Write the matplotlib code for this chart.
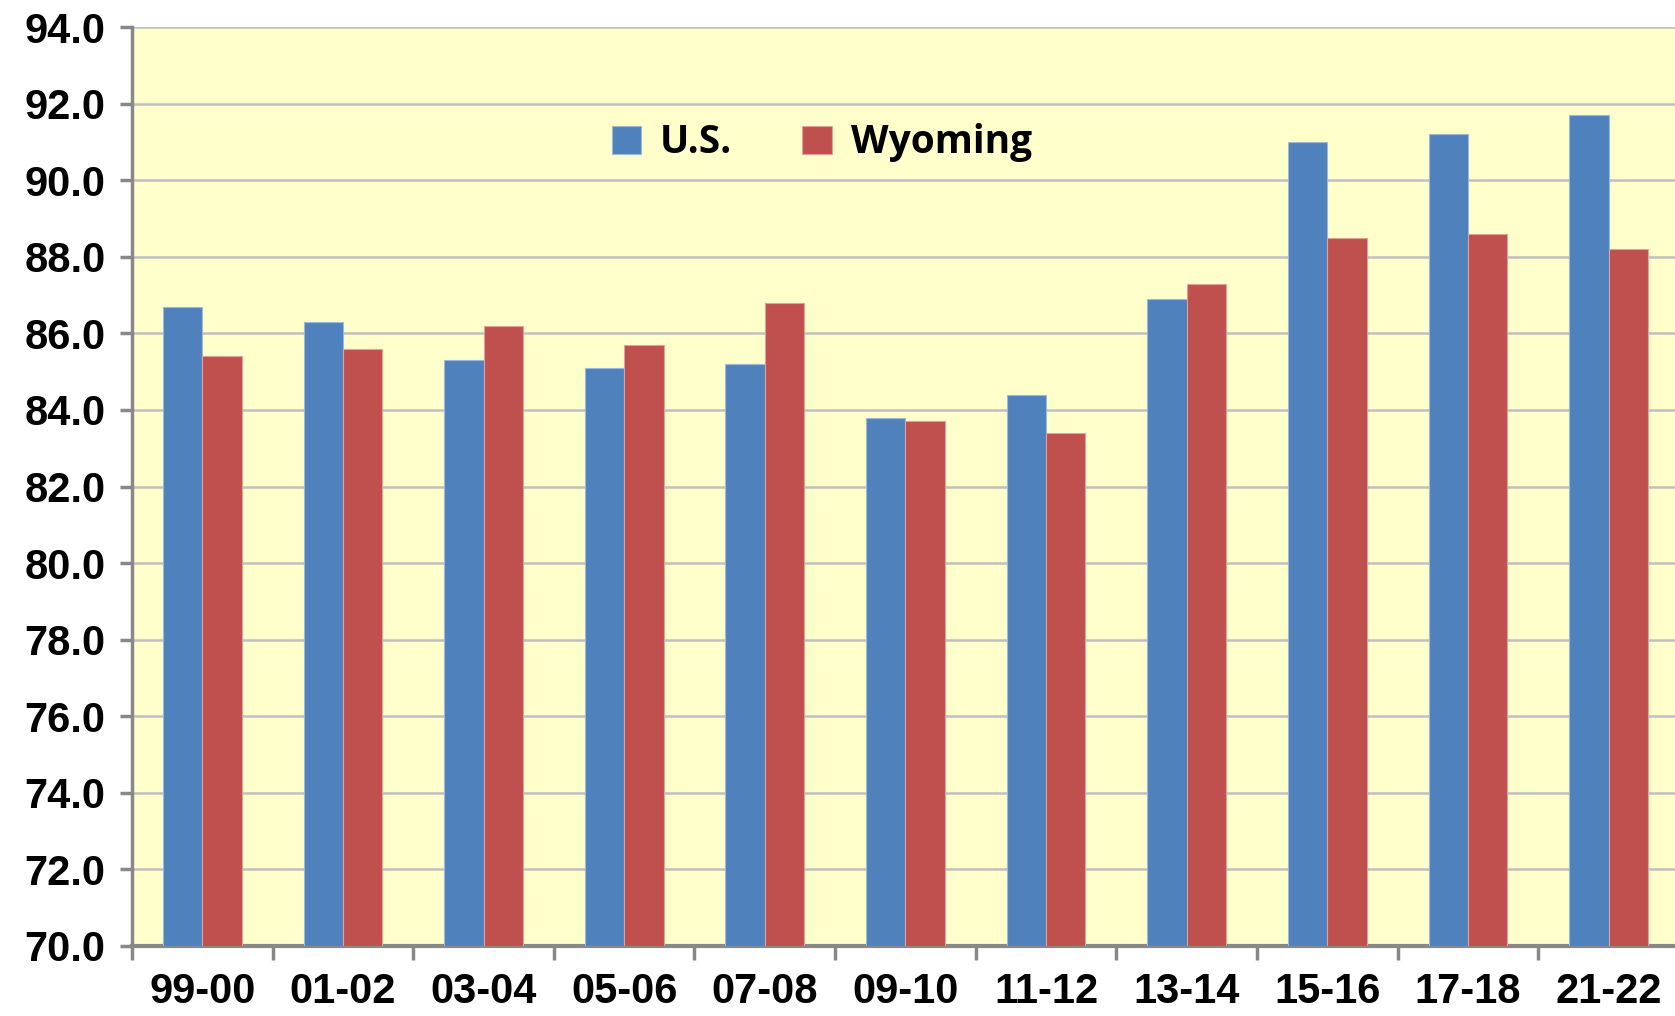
import matplotlib.pyplot as plt
import numpy as np

years = ["99-00", "01-02", "03-04", "05-06", "07-08", "09-10", "11-12",
         "13-14", "15-16", "17-18", "21-22"]
us = [86.7, 86.3, 85.3, 85.1, 85.2, 83.8, 84.4, 86.9, 91.0, 91.2, 91.7]
wyoming = [85.4, 85.6, 86.2, 85.7, 86.8, 83.7, 83.4, 87.3, 88.5, 88.6, 88.2]

fig = plt.figure(figsize=(16.75, 10.16), dpi=100)
ax = fig.add_axes([0.0788, 0.0689, 0.9235, 0.9045])
ax.set_facecolor("#FFFFCC")

x = np.arange(len(years))
w = 0.28
ax.bar(x - w / 2, np.array(us) - 70, w, bottom=70, color="#4F81BD",
       edgecolor="#9DB8DB", linewidth=0.8, label="U.S.", zorder=3)
ax.bar(x + w / 2, np.array(wyoming) - 70, w, bottom=70, color="#C0504D",
       edgecolor="#E0A09E", linewidth=0.8, label="Wyoming", zorder=3)

ax.set_ylim(70, 94)
ax.set_xlim(-0.5, len(years) - 0.5)
ax.set_yticks(np.arange(70, 94.1, 2))
ax.set_yticklabels([f"{v:.1f}" for v in np.arange(70, 94.1, 2)])
ax.yaxis.grid(True, color="#BFBFBF", linewidth=1.8, zorder=0)
ax.set_axisbelow(True)

# category labels centred, ticks on boundaries
ax.set_xticks(x)
ax.set_xticklabels(years)
ax.set_xticks(np.arange(-0.5, len(years), 1), minor=True)
ax.tick_params(axis="x", which="major", length=0, pad=19)
ax.tick_params(axis="x", which="minor", length=10, width=2.5, color="#888888")
ax.tick_params(axis="y", length=9, width=2.5, color="#888888", pad=10)

for lab in ax.get_xticklabels() + ax.get_yticklabels():
    lab.set_fontfamily("Liberation Sans")
    lab.set_fontweight("bold")
    lab.set_fontsize(30)

for s in ["top", "right"]:
    ax.spines[s].set_visible(False)
ax.spines["left"].set_color("#888888")
ax.spines["left"].set_linewidth(2.5)
ax.spines["bottom"].set_color("#888888")
ax.spines["bottom"].set_linewidth(3)

ax.legend(loc="center", bbox_to_anchor=(0.446, 0.874), ncol=2, frameon=False,
          prop={"family": "Open Sans", "weight": "bold", "size": 28},
          handlelength=0.75, handleheight=0.75, columnspacing=1.8,
          handletextpad=0.5)

fig.savefig("out.png", dpi=100)
